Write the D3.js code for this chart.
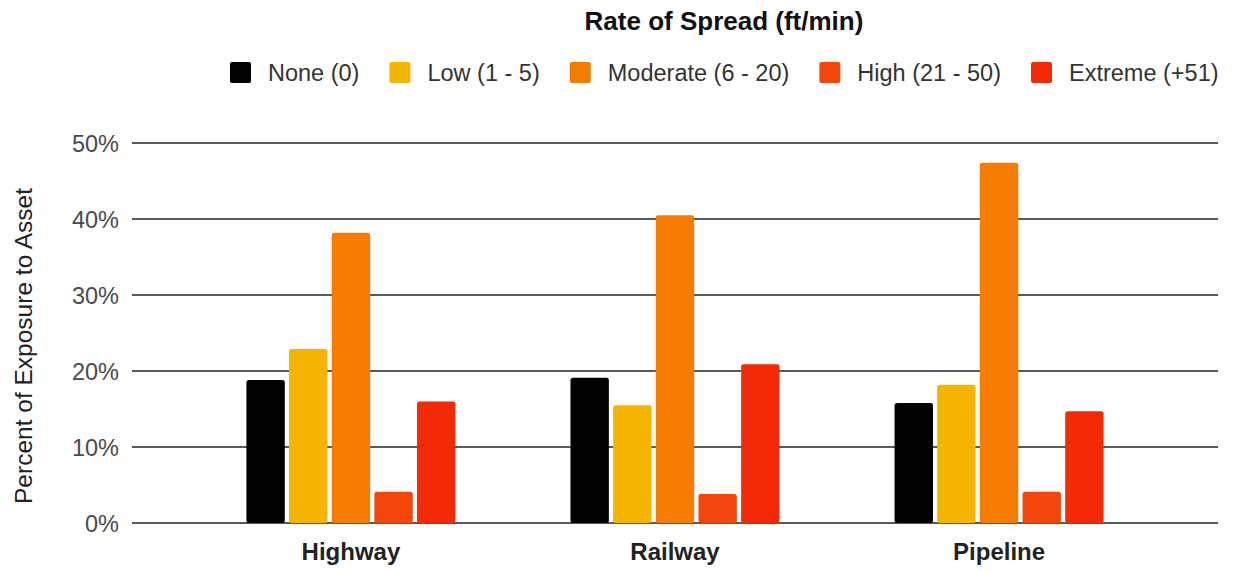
<!DOCTYPE html>
<html>
<head>
<meta charset="utf-8">
<script src="https://cdn.jsdelivr.net/npm/d3@7"></script>
<style>
  html, body { margin: 0; padding: 0; background: #fff; }
  svg { display: block; font-family: "Liberation Sans", Arial, sans-serif; }
</style>
</head>
<body>
<svg id="chart" width="1235" height="571"></svg>
<script>
const categories = ["Highway", "Railway", "Pipeline"];
const seriesNames = ["None (0)", "Low (1 - 5)", "Moderate (6 - 20)", "High (21 - 50)", "Extreme (+51)"];
const seriesColors = ["#000000", "#f4b400", "#f57c00", "#f4450d", "#f32a08"];
const noneValues = [18.8, 19.1, 15.8];
const lowValues = [22.9, 15.5, 18.2];
const moderateValues = [38.2, 40.5, 47.4];
const highValues = [4.1, 3.8, 4.1];
const extremeValues = [16.0, 20.9, 14.7];
const yTicks = [0, 10, 20, 30, 40, 50];
const chartTitle = "Rate of Spread (ft/min)";
const yAxisTitle = "Percent of Exposure to Asset";

const seriesValues = [noneValues, lowValues, moderateValues, highValues, extremeValues];

const svg = d3.select("#chart");
const plotLeft = 132, plotRight = 1218, plotTop = 143, plotBottom = 523;

const y = d3.scaleLinear().domain([0, 50]).range([plotBottom, plotTop]);
const x0 = d3.scaleBand().domain(categories).range([plotLeft, plotRight])
  .paddingInner(0.355).paddingOuter(0.353);
const x1 = d3.scaleBand().domain(d3.range(seriesNames.length))
  .range([0, x0.bandwidth()]).paddingInner(0.1);

// gridlines
svg.append("g").selectAll("line").data(yTicks).join("line")
  .attr("x1", plotLeft).attr("x2", plotRight)
  .attr("y1", d => y(d)).attr("y2", d => y(d))
  .attr("stroke", "#5a5a5a").attr("stroke-width", 2);

// y tick labels
svg.append("g").selectAll("text").data(yTicks).join("text")
  .attr("x", 119).attr("y", d => y(d) + 8.5)
  .attr("text-anchor", "end")
  .attr("font-size", 23.5).attr("fill", "#4a4a4a")
  .text(d => d + "%");

// bars
const groups = svg.append("g").selectAll("g").data(categories).join("g")
  .attr("transform", d => `translate(${x0(d)},0)`);
groups.selectAll("rect")
  .data((c, ci) => seriesValues.map((vals, si) => ({ si, v: vals[ci] })))
  .join("rect")
  .attr("x", d => x1(d.si))
  .attr("width", x1.bandwidth())
  .attr("y", d => y(d.v))
  .attr("height", d => plotBottom - y(d.v))
  .attr("rx", 2.5).attr("ry", 2.5)
  .attr("fill", d => seriesColors[d.si]);

// x labels
svg.append("g").selectAll("text").data(categories).join("text")
  .attr("x", d => x0(d) + x0.bandwidth() / 2)
  .attr("y", 560)
  .attr("text-anchor", "middle")
  .attr("font-size", 24).attr("font-weight", "bold").attr("fill", "#222")
  .text(d => d);

// title
svg.append("text")
  .attr("x", 724).attr("y", 30)
  .attr("text-anchor", "middle")
  .attr("font-size", 26).attr("font-weight", "bold").attr("fill", "#111")
  .text(chartTitle);

// y axis title
svg.append("text")
  .attr("transform", `translate(32,346) rotate(-90)`)
  .attr("text-anchor", "middle")
  .attr("font-size", 24.5).attr("fill", "#222")
  .text(yAxisTitle);

// legend
const legend = svg.append("g");
let lx = 230;
seriesNames.forEach((name, i) => {
  legend.append("rect")
    .attr("x", lx).attr("y", 62).attr("width", 21).attr("height", 21)
    .attr("rx", 2).attr("fill", seriesColors[i]);
  const t = legend.append("text")
    .attr("x", lx + 38).attr("y", 81)
    .attr("font-size", 23.5).attr("fill", "#333")
    .text(name);
  lx += 38 + t.node().getComputedTextLength() + 30;
});
</script>
</body>
</html>
